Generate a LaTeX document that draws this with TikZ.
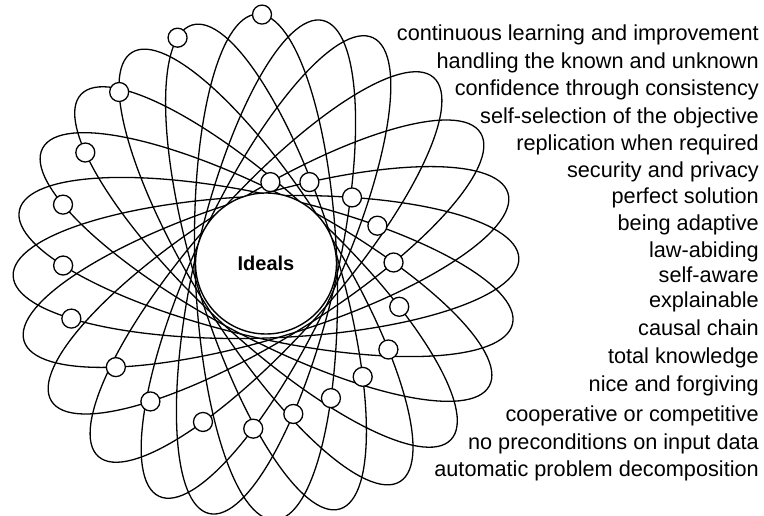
\documentclass[tikz,border=0pt]{standalone}
\usepackage{fontspec}
\setmainfont{Liberation Sans}
\begin{document}
\begin{tikzpicture}[x=1pt,y=1pt,
  orbit/.style={draw=black, line width=1.3pt},
  dot/.style={circle, draw=black, line width=1.3pt, fill=white, minimum size=19pt, inner sep=0pt},
  hub/.style={circle, draw=black, line width=1.4pt, fill=white, minimum size=141pt, inner sep=0pt,
    font=\bfseries\fontsize{20}{20}\selectfont},
  label/.style={anchor=base east, inner sep=0pt, font=\fontsize{21.7}{24}\selectfont}]
\useasboundingbox (0,0) rectangle (764,515);
\coordinate (C) at (266,248);
\coordinate (H) at (266,251.5);
% twelve orbits
\foreach \th in {2,17,32,48.5,65,77,92,107,122,137,152,167}{
  \draw[orbit, shift={(C)}, rotate=\th] (0,0) ellipse [x radius=253pt, y radius=71pt];
}
% small circles on the orbits
\foreach \i/\th/\t in {1/92/-3.9,2/107/14.3,3/122/26.6,4/137/33.8,5/152/34.5,6/167/38.5,7/182/39.1,
                   8/197/46.9,9/212/48,10/228.5/51.4,11/245/53.1,12/257/57.2,13/272/58.2,14/287/58.2,
                   15/302/57.8,16/317/60.5,17/332/64.1,18/347/66.9,19/362/69.55,20/377/74.8,21/392/78.9}{
  \begin{scope}[shift={(C)}, rotate=\th]
    \node[dot] (c\i) at (\t:253pt and 71pt) {};
  \end{scope}
}
\node[hub] (ideals) at (H) {Ideals};
% list of ideals
\foreach \txt/\yy [count=\n] in {
  continuous learning and improvement/41,
  handling the known and unknown/69,
  confidence through consistency/96,
  self-selection of the objective/124,
  replication when required/151,
  security and privacy/178,
  perfect solution/204,
  being adaptive/231,
  law-abiding/258,
  self-aware/283,
  explainable/308,
  causal chain/336,
  total knowledge/364,
  nice and forgiving/391,
  cooperative or competitive/421,
  no preconditions on input data/449,
  automatic problem decomposition/476}{
  \node[label] (t\n) at (759,515-\yy) {\txt};
}
\end{tikzpicture}
\end{document}
